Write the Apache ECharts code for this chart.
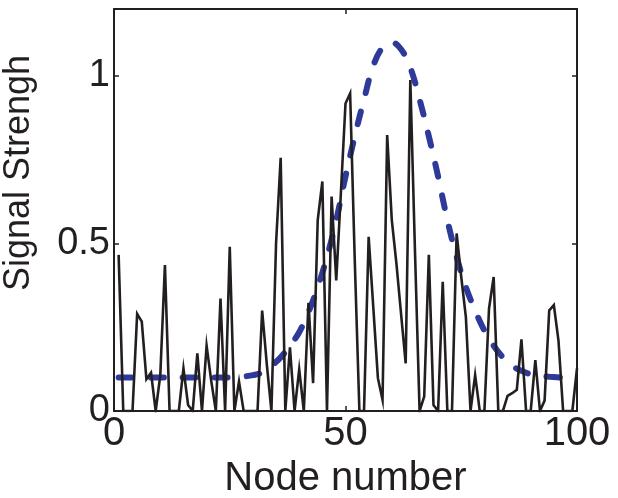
<!DOCTYPE html>
<html>
<head>
<meta charset="utf-8">
<script src="https://cdn.jsdelivr.net/npm/echarts@6/dist/echarts.min.js"></script>
<style>
html,body{margin:0;padding:0;background:#fff;}
#c{width:618px;height:498px;}
</style>
</head>
<body>
<div id="c"></div>
<script>
// Node numbers of the measured signal
var nodes = [];
for (var i = 1; i <= 100; i++) nodes.push(i);

var signal = [
  0.466, 0, 0, 0, 0.29, 0.267, 0.095, 0.114, 0, 0.107,
  0.436, 0, 0, 0, 0.127, 0.018, 0, 0.172, 0, 0.195,
  0.09, 0, 0.336, 0, 0.49, 0, 0.088, 0, 0, 0,
  0, 0.30, 0.14, 0, 0.50, 0.756, 0, 0.19, 0, 0.124,
  0, 0.323, 0.083, 0.57, 0.685, 0, 0.64, 0.39, 0.65, 0.918,
  0.948, 0.45, 0, 0, 0.52, 0.31, 0.098, 0.033, 0.824, 0.57,
  0.44, 0.29, 0.142, 0.988, 0.48, 0, 0.043, 0.466, 0.018, 0,
  0.386, 0, 0, 0.53, 0.40, 0.28, 0, 0.107, 0, 0,
  0.306, 0.40, 0, 0, 0.045, 0.053, 0.063, 0.214, 0, 0,
  0.152, 0, 0.031, 0.30, 0.316, 0.21, 0, 0, 0, 0.127
];

var modelNodes = [1, 10, 20, 26, 28, 30, 32, 34, 36, 38, 40, 42, 44, 46, 48, 50, 52, 54, 56, 58, 60,
                  62, 64, 66, 68, 70, 72, 74, 76, 78, 80, 82, 84, 86, 88, 90, 92, 94, 97];
var modelValues = [0.1, 0.1, 0.1, 0.1, 0.103, 0.107, 0.115, 0.135, 0.16, 0.195, 0.235, 0.295, 0.37, 0.46, 0.57, 0.70, 0.82, 0.93, 1.03, 1.085, 1.10,
                   1.08, 1.025, 0.93, 0.82, 0.70, 0.57, 0.46, 0.37, 0.30, 0.24, 0.195, 0.16, 0.135, 0.12, 0.11, 0.105, 0.102, 0.1];

// Tick labels
var xTicks = [0, 50, 100];
var yTicks = [0, 0.5, 1];

var signalData = nodes.map(function (n, i) { return [n, signal[i]]; });
var modelData = modelNodes.map(function (n, i) { return [n, modelValues[i]]; });

var ink = '#231f20';
var fontFam = '"Liberation Sans", Arial, sans-serif';

var chart = echarts.init(document.getElementById('c'), null, {renderer: 'canvas'});
chart.setOption({
  animation: false,
  backgroundColor: '#fff',
  grid: {left: 114, right: 41, top: 9, bottom: 87, containLabel: false, outerBoundsMode: 'none'},
  xAxis: [{
    type: 'value', min: 0, max: 100, interval: 50, position: 'bottom',
    name: 'Node number', nameLocation: 'middle', nameGap: 40,
    nameTextStyle: {fontSize: 40, color: ink, fontFamily: fontFam},
    axisLine: {show: true, onZero: false, lineStyle: {color: ink, width: 2}},
    axisTick: {show: true, inside: true, length: 5, lineStyle: {color: ink, width: 1.5}},
    axisLabel: {fontSize: 40, color: ink, fontFamily: fontFam, margin: 3,
      formatter: function (v) { return xTicks.indexOf(v) >= 0 ? String(v) : ''; }},
    splitLine: {show: false}
  }, {
    type: 'value', min: 0, max: 100, interval: 50, position: 'top',
    axisLine: {show: true, onZero: false, lineStyle: {color: ink, width: 2}},
    axisTick: {show: true, inside: true, length: 5, lineStyle: {color: ink, width: 1.5}},
    axisLabel: {show: false}, splitLine: {show: false}
  }],
  yAxis: [{
    type: 'value', min: 0, max: 1.2, interval: 0.5, position: 'left',
    name: 'Signal Strengh', nameLocation: 'middle', nameGap: 77, nameRotate: 90,
    nameTextStyle: {fontSize: 36, color: ink, fontFamily: fontFam, padding: [0, 0, 0, 74]},
    axisLine: {show: true, onZero: false, lineStyle: {color: ink, width: 2}},
    axisTick: {show: true, inside: true, length: 5, lineStyle: {color: ink, width: 1.5}},
    axisLabel: {fontSize: 38, color: ink, fontFamily: fontFam, margin: 4, showMaxLabel: false,
      formatter: function (v) {
        for (var k = 0; k < yTicks.length; k++) if (Math.abs(yTicks[k] - v) < 1e-9) return String(yTicks[k]);
        return '';
      }},
    splitLine: {show: false}
  }, {
    type: 'value', min: 0, max: 1.2, interval: 0.5, position: 'right',
    axisLine: {show: true, onZero: false, lineStyle: {color: ink, width: 2}},
    axisTick: {show: true, inside: true, length: 5, lineStyle: {color: ink, width: 1.5}},
    axisLabel: {show: false}, splitLine: {show: false}
  }],
  series: [{
    type: 'line', name: 'model', data: modelData, smooth: 0.4,
    showSymbol: false, symbol: 'none', z: 2,
    lineStyle: {color: '#2e3a9a', width: 6, type: [13, 19], cap: 'round'}
  }, {
    type: 'line', name: 'signal', data: signalData, smooth: false,
    showSymbol: false, symbol: 'none', z: 3,
    lineStyle: {color: ink, width: 2.6, join: 'miter'}
  }]
});
</script>
</body>
</html>
